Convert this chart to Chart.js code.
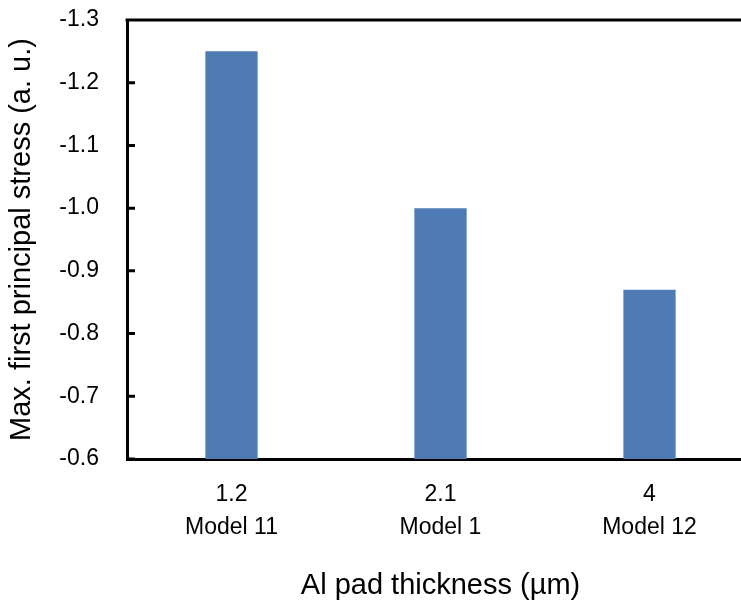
<!DOCTYPE html>
<html>
<head>
<meta charset="utf-8">
<script src="https://cdn.jsdelivr.net/npm/chart.js@4"></script>
<style>
  html, body { margin: 0; padding: 0; overflow: hidden; background: #fff; }
  #wrap { width: 754px; height: 603px; }
</style>
</head>
<body>
<div id="wrap"><canvas id="chart"></canvas></div>
<script>
const thicknessLabels = ["1.2", "2.1", "4"];
const modelLabels = ["Model 11", "Model 1", "Model 12"];
const stressValues = [-1.25, -1.0, -0.87];
const yMin = -1.3, yMax = -0.6, yStep = 0.1;

const fontFamily = "'Liberation Sans', Arial, sans-serif";

// inner tick marks on the y axis + the top frame line
const framePlugin = {
    id: "frame",
    afterDraw(chart) {
        const ctx = chart.ctx;
        const area = chart.chartArea;
        const y = chart.scales.y;
        ctx.save();
        ctx.strokeStyle = "#000";
        ctx.lineWidth = 3;
        ctx.beginPath();
        ctx.moveTo(area.left - 1.5, area.top);
        ctx.lineTo(area.right, area.top);
        y.ticks.forEach(t => {
            const py = y.getPixelForValue(t.value);
            ctx.moveTo(area.left, py);
            ctx.lineTo(area.left + 8, py);
        });
        ctx.stroke();
        ctx.restore();
    }
};

new Chart(document.getElementById("chart"), {
    type: "bar",
    data: {
        labels: thicknessLabels.map((t, i) => [t, modelLabels[i]]),
        datasets: [{
            data: stressValues,
            base: yMax,
            backgroundColor: "#4e7bb4",
            borderWidth: 0,
            barPercentage: 0.25,
            categoryPercentage: 1.0
        }]
    },
    options: {
        responsive: true,
        maintainAspectRatio: false,
        animation: false,
        layout: { padding: { top: 20, left: 0, right: 0, bottom: 0 } },
        plugins: { legend: { display: false }, tooltip: { enabled: false } },
        scales: {
            x: {
                z: 1,
                grid: { display: false },
                border: { display: true, color: "#000", width: 3 },
                ticks: {
                    color: "#000",
                    padding: 12,
                    font: { family: fontFamily, size: 23, lineHeight: 1.4 }
                },
                title: {
                    display: true,
                    text: "Al pad thickness (µm)",
                    color: "#000",
                    padding: { top: 0, bottom: 0 },
                    font: { family: fontFamily, size: 29 }
                },
                afterFit(scale) {
                    scale.height = 144;
                    scale.paddingLeft = 0;
                    scale.paddingRight = 0;
                }
            },
            y: {
                z: 1,
                reverse: true,
                min: yMin,
                max: yMax,
                grid: { display: false },
                border: { display: true, color: "#000", width: 3 },
                ticks: {
                    stepSize: yStep,
                    color: "#000",
                    padding: 20,
                    font: { family: fontFamily, size: 23 },
                    callback: v => v.toFixed(1)
                },
                title: {
                    display: true,
                    text: "Max. first principal stress (a. u.)",
                    color: "#000",
                    padding: { top: 5, bottom: 0 },
                    font: { family: fontFamily, size: 29 }
                },
                afterFit(scale) {
                    scale.width = 127;
                    scale.paddingTop = 0;
                    scale.paddingBottom = 0;
                }
            }
        }
    },
    plugins: [framePlugin]
});
</script>
</body>
</html>
